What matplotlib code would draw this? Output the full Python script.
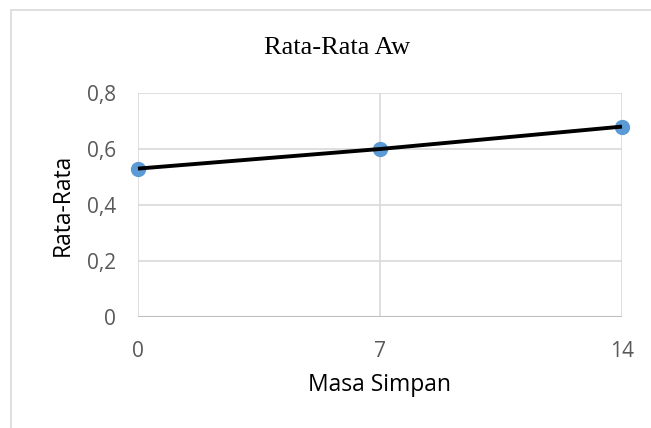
import matplotlib.pyplot as plt
from matplotlib.patches import Rectangle

# data
masa_simpan = [0, 7, 14]
rata_rata = [0.53, 0.60, 0.68]
y_ticks = [0, 0.2, 0.4, 0.6, 0.8]
y_labels = ['0', '0,2', '0,4', '0,6', '0,8']

W, H = 651, 428
fig = plt.figure(figsize=(W / 100, H / 100), dpi=100)

# outer chart border
fig.patches.append(Rectangle((11 / W, -0.05), 1.1, 1 - 10 / H + 0.05,
                             transform=fig.transFigure, fill=False,
                             edgecolor='#d9d9d9', linewidth=1.2))

ax = fig.add_axes([138 / W, 1 - 317 / H, (622 - 138) / W, (317 - 93) / H])
ax.plot(masa_simpan, rata_rata, color='#5b9bd5', marker='o', markersize=10,
        linestyle='none', zorder=3, clip_on=False)
ax.plot(masa_simpan, rata_rata, color='black', linewidth=2.8, zorder=4,
        solid_capstyle='butt', clip_on=False)

ax.set_xlim(0, 14)
ax.set_ylim(0, 0.8)
ax.set_xticks(masa_simpan)
ax.set_yticks(y_ticks)
ax.set_yticklabels(y_labels)
ax.grid(True, color='#d9d9d9', linewidth=1.2)
ax.set_axisbelow(True)
for s in ax.spines.values():
    s.set_visible(False)
ax.axhline(0, color='#bfbfbf', linewidth=1.5, zorder=2)
ax.tick_params(length=0, labelsize=15, colors='#595959')
ax.tick_params(axis='x', pad=17)
ax.tick_params(axis='y', pad=16)
for lab in ax.get_xticklabels() + ax.get_yticklabels():
    lab.set_family('Open Sans')

ax.set_xlabel('Masa Simpan', fontsize=16.5, family='Open Sans', color='black')
ax.xaxis.set_label_coords(0.5, -(373 - 317) / (317 - 93))
ax.set_ylabel('Rata-Rata', fontsize=16.5, family='Open Sans', color='black')
ax.yaxis.set_label_coords(-(138 - 75) / (622 - 138), 0.5)
fig.text(337 / W, 1 - 48 / H, 'Rata-Rata Aw', ha='center', va='center',
         fontsize=19, family='Liberation Serif')

fig.savefig('out.png', dpi=100)
